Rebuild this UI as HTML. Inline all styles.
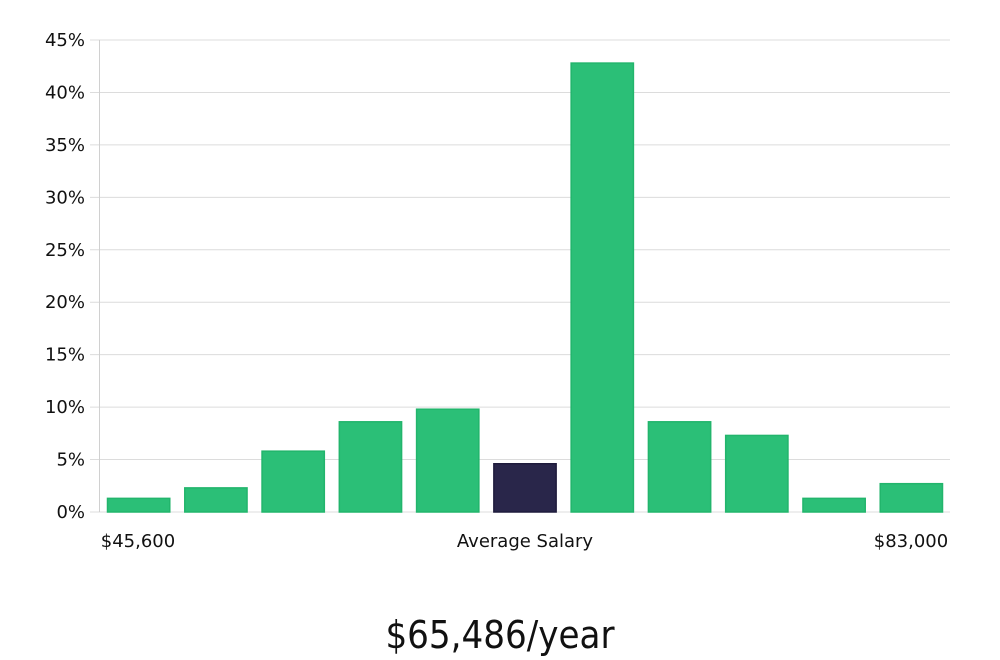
<!DOCTYPE html>
<html><head><meta charset="utf-8"><style>
html,body{margin:0;padding:0;background:#fff;width:1000px;height:660px;overflow:hidden}
svg{display:block}
text{font-family:"DejaVu Sans","Liberation Sans",sans-serif;fill:#111}
</style></head><body>
<svg id="chart" width="1000" height="660">
<g id="grid"></g><g id="bars"></g><g id="axes"></g>
<text x="138" y="547" font-size="18" text-anchor="middle">$45,600</text>
<text x="525" y="547" font-size="18" text-anchor="middle">Average Salary</text>
<text x="911" y="547" font-size="18" text-anchor="middle">$83,000</text>
<text x="500" y="648" font-size="38" text-anchor="middle" style="font-family:'Liberation Sans Narrow','DejaVu Sans Condensed','Liberation Sans',sans-serif;font-weight:300" fill="#222">$65,486/year</text>
</svg>
<script>
const categories = ["b1","b2","b3","b4","b5","b6","b7","b8","b9","b10","b11"];
const values = [1.3, 2.3, 5.8, 8.6, 9.8, 4.6, 42.8, 8.6, 7.3, 1.3, 2.7];
const highlight = [false,false,false,false,false,true,false,false,false,false,false];
const yTicks = [0,5,10,15,20,25,30,35,40,45];
const NS="http://www.w3.org/2000/svg";
const x0=100,x1=950,yTop=40,yBot=512,yMax=45;
const y=v=>yBot-(v/yMax)*(yBot-yTop);
const slot=(x1-x0)/categories.length;
const xs=i=>x0+i*slot;
const grid=document.getElementById('grid'),bars=document.getElementById('bars'),axes=document.getElementById('axes');
function mk(t,a){const e=document.createElementNS(NS,t);for(const k in a)e.setAttribute(k,a[k]);return e;}
yTicks.forEach(t=>{
  const l=mk('line',{x1:90,x2:x1,y1:y(t),y2:y(t),stroke:'#dcdcdc','stroke-width':1});
  
  
  grid.appendChild(l);
  const tx=mk('text',{x:85,y:y(t)+6,'font-size':18,'text-anchor':'end'});
  tx.textContent=t+'%';
  
  
  axes.appendChild(tx);
});
const ax=mk('line',{x1:99.5,x2:99.5,y1:yTop,y2:yBot,stroke:'#d0d0d0','stroke-width':1});


axes.appendChild(ax);
values.forEach((v,i)=>{
  const hl=highlight[i];
  const r=mk('rect',{x:xs(i)+7.5,y:y(v),width:slot-15,height:yBot-y(v),
    fill:hl?'#29264a':'#2bbf77',stroke:hl?'#1e1b3c':'#22b56c','stroke-width':1.5});
  
  
  bars.appendChild(r);
});
</script>
</body></html>
